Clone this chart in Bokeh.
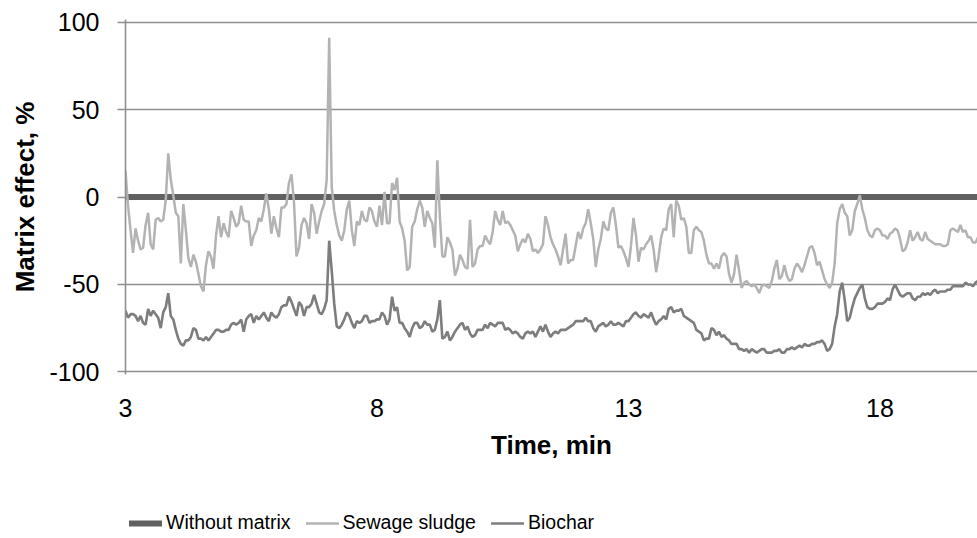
import numpy as np
from bokeh.plotting import figure
from bokeh.layouts import column
from bokeh.models import Range1d, FixedTicker, Legend, LegendItem
from bokeh.embed import file_html
from bokeh.resources import INLINE

# Sampling times (min) for the two measured traces
times = np.round(3.0 + 0.05 * np.arange(340), 2)

# Matrix effect (%) with sewage sludge
sewage_sludge = [
    15, -5, -19, -32, -18, -25, -30, -29, -16, -9,
    -27, -30, -13, -12, -14, -13, -2, 25, 10, 1,
    -9, -11, -38, -4, -19, -35, -40, -33, -37, -44,
    -51, -54, -39, -31, -34, -41, -22, -11, -23, -15,
    -20, -23, -8, -12, -17, -15, -5, -13, -14, -14,
    -28, -22, -19, -12, -14, -7, 2, -7, -21, -11,
    -18, -23, -6, -6, -4, 8, 13, -3, -34, -29,
    -16, -12, -15, -24, -4, -9, -21, -14, -8, -4,
    10, 91, 6, -8, -16, -22, -25, -19, -7, -2,
    -19, -28, -14, -16, -8, -13, -14, -6, -8, -14,
    -17, -5, -16, 3, -15, -15, 8, 4, 11, -14,
    -18, -25, -42, -40, -17, -14, -7, -2, -6, -17,
    -8, -12, -15, -29, 21, -11, -34, -34, -23, -26,
    -30, -45, -41, -33, -36, -40, -41, -13, -40, -38,
    -30, -28, -28, -22, -25, -27, -20, -8, -13, -16,
    -8, -15, -14, -16, -19, -22, -31, -27, -24, -26,
    -21, -24, -31, -30, -32, -30, -27, -11, -16, -23,
    -27, -30, -34, -39, -30, -21, -38, -36, -36, -28,
    -20, -24, -18, -15, -7, -15, -24, -40, -30, -24,
    -14, -18, -19, -9, -6, -16, -29, -28, -31, -35,
    -40, -28, -12, -22, -37, -29, -30, -27, -25, -22,
    -30, -43, -34, -23, -18, -19, -7, -4, -23, -2,
    -5, -13, -12, -17, -32, -32, -19, -17, -19, -20,
    -25, -33, -38, -38, -41, -38, -41, -34, -32, -34,
    -44, -49, -44, -33, -42, -52, -49, -48, -50, -51,
    -50, -52, -55, -51, -50, -51, -52, -48, -41, -36,
    -47, -45, -39, -45, -48, -47, -41, -38, -40, -43,
    -39, -34, -29, -28, -32, -39, -37, -42, -47, -50,
    -52, -49, -38, -15, -7, -4, -9, -11, -22, -19,
    -8, -4, 1, -7, -12, -19, -22, -23, -19, -18,
    -19, -22, -22, -24, -21, -20, -18, -19, -24, -31,
    -30, -26, -19, -25, -23, -20, -24, -25, -20, -24,
    -25, -26, -27, -27, -27, -28, -28, -27, -19, -18,
    -19, -20, -16, -20, -19, -23, -23, -26, -26, -23,
]

# Matrix effect (%) with biochar
biochar = [
    -65, -69, -67, -67, -68, -71, -68, -72, -73, -64,
    -68, -65, -67, -69, -75, -66, -63, -55, -68, -70,
    -76, -81, -84, -85, -82, -82, -80, -75, -76, -81,
    -81, -82, -80, -82, -80, -78, -76, -76, -77, -77,
    -76, -76, -73, -72, -73, -72, -70, -77, -70, -68,
    -67, -72, -68, -70, -68, -66, -69, -71, -66, -68,
    -69, -67, -63, -62, -62, -57, -60, -64, -68, -60,
    -62, -68, -63, -63, -61, -56, -61, -66, -67, -64,
    -59, -25, -42, -61, -74, -75, -73, -70, -66, -68,
    -72, -75, -71, -72, -71, -68, -68, -72, -71, -71,
    -70, -70, -66, -68, -73, -70, -57, -65, -63, -72,
    -72, -75, -77, -80, -75, -72, -72, -75, -74, -71,
    -73, -73, -77, -76, -70, -59, -81, -80, -77, -82,
    -80, -77, -75, -73, -72, -76, -74, -78, -80, -79,
    -76, -76, -76, -73, -75, -72, -73, -74, -72, -72,
    -72, -76, -75, -76, -78, -77, -78, -80, -81, -78,
    -77, -78, -77, -80, -77, -74, -77, -73, -77, -80,
    -78, -77, -78, -76, -76, -76, -75, -74, -73, -71,
    -71, -71, -71, -69, -71, -71, -75, -77, -74, -73,
    -72, -74, -73, -71, -73, -73, -72, -73, -74, -71,
    -71, -69, -67, -66, -68, -69, -67, -68, -69, -66,
    -70, -73, -71, -70, -68, -70, -64, -63, -66, -65,
    -65, -64, -68, -69, -70, -71, -72, -76, -77, -78,
    -82, -81, -81, -75, -76, -79, -77, -80, -79, -81,
    -82, -84, -84, -84, -87, -87, -88, -87, -89, -87,
    -88, -89, -88, -87, -87, -89, -89, -89, -88, -88,
    -87, -89, -89, -87, -87, -86, -87, -86, -85, -86,
    -84, -85, -85, -84, -84, -83, -83, -82, -84, -88,
    -87, -84, -74, -67, -54, -49, -59, -71, -69, -63,
    -58, -55, -52, -50, -58, -63, -64, -64, -63, -61,
    -61, -61, -60, -58, -59, -53, -50, -53, -56, -57,
    -56, -55, -55, -58, -59, -57, -57, -55, -56, -55,
    -56, -54, -53, -55, -54, -54, -54, -53, -53, -51,
    -51, -51, -51, -51, -49, -50, -50, -51, -49, -48,
]

# Reference run without matrix: flat at 0 %
without_matrix_time = [3.0, 20.0]
without_matrix = [0, 0]

x_ticks = [3, 8, 13, 18]
y_ticks = [-100, -50, 0, 50, 100]
y_tick_labels = ["-100", "-50", "0", "50", "100"]

series_names = ["Without matrix", "Sewage sludge", "Biochar"]
series_x = [without_matrix_time, times, times]
series_y = [without_matrix, sewage_sludge, biochar]
series_colors = ["#616161", "#b3b3b3", "#7d7d7d"]
series_widths = [6, 2.5, 2.6]

FONT = "Liberation Sans"
GRID = "#8f8f8f"

# ---- main chart -------------------------------------------------------
p = figure(
    width=977, height=490,
    x_range=Range1d(3, 19.94), y_range=Range1d(-101.5, 101.5),
    output_backend="svg", toolbar_location=None,
    min_border_left=125, min_border_right=0,
    min_border_top=19, min_border_bottom=116,
    outline_line_color=None, background_fill_color="white",
    border_fill_color="white",
)

# grid: horizontal lines only
p.xgrid.visible = False
p.ygrid.ticker = FixedTicker(ticks=y_ticks)
p.ygrid.grid_line_color = GRID
p.ygrid.grid_line_width = 1.6

# x axis
p.xaxis.ticker = FixedTicker(ticks=x_ticks)
p.xaxis.axis_line_color = None
p.xaxis.major_tick_line_color = None
p.xaxis.minor_tick_line_color = None
p.xaxis.major_label_text_font = FONT
p.xaxis.major_label_text_font_size = "25px"
p.xaxis.major_label_text_color = "black"
p.xaxis.major_label_standoff = 18
p.xaxis.axis_label = "Time, min"
p.xaxis.axis_label_text_font = FONT
p.xaxis.axis_label_text_font_style = "bold"
p.xaxis.axis_label_text_font_size = "26px"
p.xaxis.axis_label_text_color = "black"
p.xaxis.axis_label_standoff = 10

# y axis
p.yaxis.ticker = FixedTicker(ticks=y_ticks)
p.yaxis.major_label_overrides = dict(zip(y_ticks, y_tick_labels))
p.yaxis.axis_line_color = GRID
p.yaxis.axis_line_width = 1.6
p.yaxis.major_tick_line_color = GRID
p.yaxis.major_tick_line_width = 1.6
p.yaxis.major_tick_in = 0
p.yaxis.major_tick_out = 8
p.yaxis.minor_tick_line_color = None
p.yaxis.major_label_text_font = FONT
p.yaxis.major_label_text_font_size = "25px"
p.yaxis.major_label_text_color = "black"
p.yaxis.major_label_standoff = 18
p.yaxis.axis_label = "Matrix effect, %"
p.yaxis.axis_label_text_font = FONT
p.yaxis.axis_label_text_font_style = "bold"
p.yaxis.axis_label_text_font_size = "26px"
p.yaxis.axis_label_text_color = "black"
p.yaxis.axis_label_standoff = 6

for xs, ys, color, width in zip(series_x, series_y, series_colors, series_widths):
    p.line(xs, ys, line_color=color, line_width=width)

# ---- legend strip under the chart ------------------------------------
# The series are repeated here only to give the legend its swatches; the
# strip's ranges keep the lines themselves out of view.
leg = figure(
    width=977, height=48,
    x_range=Range1d(0, 1), y_range=Range1d(0, 1),
    x_axis_type=None, y_axis_type=None,
    output_backend="svg", toolbar_location=None,
    min_border=0, outline_line_color=None,
    background_fill_color="white", border_fill_color="white",
)
leg.xgrid.visible = False
leg.ygrid.visible = False

items = []
for name, xs, ys, color, width in zip(series_names, series_x, series_y,
                                      series_colors, series_widths):
    r = leg.line(xs, ys, line_color=color, line_width=width, line_cap="round")
    items.append(LegendItem(label=name, renderers=[r]))

legend = Legend(
    items=items,
    orientation="horizontal",
    location=(4, 4),
    border_line_color=None,
    background_fill_alpha=0,
    padding=0, margin=0,
    spacing=15,
    glyph_width=33, glyph_height=20,
    label_standoff=4,
    label_text_font=FONT,
    label_text_font_size="19.5px",
    label_text_color="black",
)
leg.add_layout(legend, "center")

layout = column(p, leg, spacing=0)
open("out.html", "w").write(file_html(layout, INLINE))
